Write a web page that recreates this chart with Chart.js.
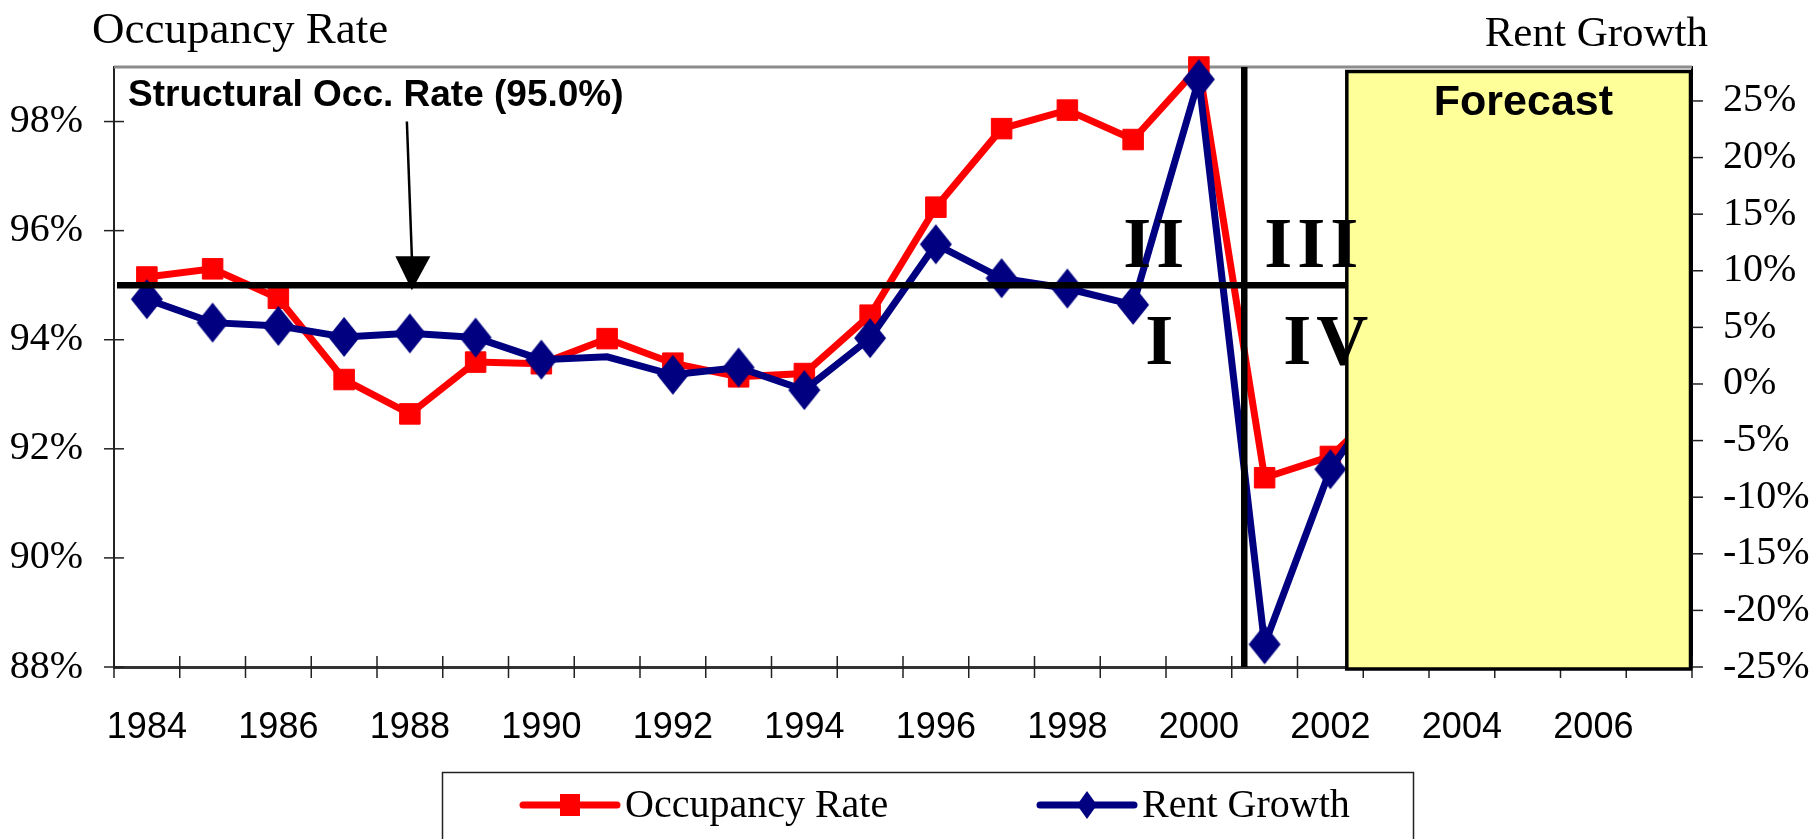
<!DOCTYPE html>
<html>
<head>
<meta charset="utf-8">
<script src="https://cdn.jsdelivr.net/npm/chart.js@4.4.0/dist/chart.umd.min.js"></script>
<style>
html, body { margin: 0; padding: 0; background: #fff; }
#wrap { width: 1818px; height: 839px; }
</style>
</head>
<body>
<div id="wrap"><canvas id="myChart" width="1818" height="839"></canvas></div>
<script>
const years = ['1984', '1985', '1986', '1987', '1988', '1989', '1990', '1991', '1992', '1993', '1994', '1995',
               '1996', '1997', '1998', '1999', '2000', '2001', '2002', '2003', '2004', '2005', '2006', '2007'];
// percent
const occupancyRate = [95.15, 95.30, 94.76, 93.27, 92.64, 93.59, 93.56, 94.02, 93.57, 93.32, 93.38, 94.45,
                       96.43, 97.87, 98.21, 97.67, 99.00, 91.47, 91.86, 93.0, null, null, null, null];
const rentGrowth = [7.49, 5.42, 5.13, 4.16, 4.47, 4.10, 2.15, 2.40, 0.81, 1.46, -0.54, 4.05,
                    12.34, 9.34, 8.43, 6.99, 26.91, -23.0, -7.53, 0.7, null, null, null, null];
const rentNoMarker = ['1991'];
const occTicks = [88, 90, 92, 94, 96, 98];
const rentTicks = [-25, -20, -15, -10, -5, 0, 5, 10, 15, 20, 25];
const structuralRate = 95;

// category positions (fractional index) for the notes
const arrowAt = 4;          // 1988
const arrowFrom = 98;
const cycleBreak = 16.69;   // between 2000 and 2001
const forecastStart = 18.25;

const sans = '"Liberation Sans", Arial, sans-serif';
const serif = '"Liberation Serif", "Times New Roman", serif';

// tall diamond marker like the excel one
const diamond = document.createElement('canvas');
diamond.width = 34;
diamond.height = 42;
(function () {
  const d = diamond.getContext('2d');
  d.fillStyle = '#000080';
  d.beginPath();
  d.moveTo(17, 1);
  d.lineTo(33, 21);
  d.lineTo(17, 41);
  d.lineTo(1, 21);
  d.closePath();
  d.fill();
})();

function seg(ctx, x1, y1, x2, y2) {
  ctx.beginPath();
  ctx.moveTo(x1, y1);
  ctx.lineTo(x2, y2);
  ctx.stroke();
}

const notes = {
  id: 'notes',
  beforeDatasetsDraw(chart) {
    const {ctx, chartArea: a, scales} = chart;
    const x = scales.x, yl = scales.yOcc, yr = scales.yRent;
    ctx.save();
    // grey frame top
    ctx.strokeStyle = '#8c8c8c';
    ctx.lineWidth = 3;
    seg(ctx, a.left, a.top, a.right, a.top);
    // crossing tick marks
    ctx.strokeStyle = '#222';
    ctx.lineWidth = 1.5;
    for (let i = 0; i <= years.length; i++) {
      const px = x.getPixelForValue(i - 0.5);
      seg(ctx, px, a.bottom - 11, px, a.bottom + 11);
    }
    occTicks.forEach(v => {
      const py = yl.getPixelForValue(v);
      seg(ctx, a.left - 10, py, a.left + 10, py);
    });
    rentTicks.forEach(v => {
      const py = yr.getPixelForValue(v);
      seg(ctx, a.right - 10, py, a.right + 11, py);
    });
    ctx.restore();
  },
  afterDatasetsDraw(chart) {
    const {ctx, chartArea: a, scales} = chart;
    const x = scales.x, yl = scales.yOcc;
    const xf = x.getPixelForValue(forecastStart);
    const xc = x.getPixelForValue(cycleBreak);
    const y95 = yl.getPixelForValue(structuralRate);
    ctx.save();
    // structural rate line
    ctx.strokeStyle = '#000';
    ctx.lineWidth = 6.5;
    seg(ctx, a.left + 3, y95, xf, y95);
    // cycle break
    seg(ctx, xc, a.top, xc, a.bottom);
    // arrow
    const xa = x.getPixelForValue(arrowAt);
    const ya = yl.getPixelForValue(arrowFrom);
    ctx.lineWidth = 2.5;
    seg(ctx, xa - 3, ya, xa + 2, y95 - 28);
    ctx.fillStyle = '#000';
    ctx.beginPath();
    ctx.moveTo(xa + 3 - 17.5, y95 - 29);
    ctx.lineTo(xa + 3 + 17.5, y95 - 29);
    ctx.lineTo(xa + 2, y95 + 5);
    ctx.closePath();
    ctx.fill();
    // forecast box
    ctx.fillStyle = '#ffff99';
    ctx.fillRect(xf, a.top + 3, a.right - xf, a.bottom - a.top);
    ctx.strokeStyle = '#000';
    ctx.lineWidth = 3.5;
    ctx.strokeRect(xf, a.top + 4.5, a.right - 1.5 - xf, a.bottom + 2 - a.top - 4.5);
    ctx.fillStyle = '#000';
    ctx.textBaseline = 'alphabetic';
    ctx.textAlign = 'center';
    ctx.font = 'bold 43px ' + sans;
    ctx.fillText('Forecast', (xf + a.right) / 2 + 4, a.top + 48);
    // structural label
    ctx.textAlign = 'left';
    ctx.font = 'bold 37px ' + sans;
    ctx.fillText('Structural Occ. Rate (95.0%)', a.left + 14, a.top + 39);
    // cycle quadrants
    ctx.font = 'bold 72px ' + serif;
    ctx.letterSpacing = '5px';
    ctx.textAlign = 'right';
    ctx.fillText('II', xc - 55, y95 - 18);
    ctx.fillText('I', xc - 66, y95 + 79);
    ctx.textAlign = 'left';
    ctx.fillText('III', xc + 20, y95 - 18);
    ctx.fillText('IV', xc + 39, y95 + 79);
    ctx.restore();
  },
  afterDraw(chart) {
    const {ctx} = chart;
    ctx.save();
    ctx.fillStyle = '#000';
    ctx.textBaseline = 'alphabetic';
    ctx.font = '45px ' + serif;
    ctx.textAlign = 'left';
    ctx.fillText('Occupancy Rate', 92, 43);
    ctx.font = '43px ' + serif;
    ctx.textAlign = 'right';
    ctx.fillText('Rent Growth', 1708, 46);
    // legend
    ctx.strokeStyle = '#222';
    ctx.lineWidth = 1.5;
    ctx.strokeRect(442.5, 772.5, 971, 100);
    const items = [{x: 523, w: 94}, {x: 1040, w: 94}];
    chart.data.datasets.forEach((ds, i) => {
      const it = items[i];
      const cy = 805;
      ctx.strokeStyle = ds.borderColor;
      ctx.lineWidth = 7;
      ctx.lineCap = 'round';
      seg(ctx, it.x, cy, it.x + it.w, cy);
      ctx.fillStyle = ds.borderColor;
      const mx = it.x + it.w / 2;
      if (ds.pointStyle === 'rect') {
        ctx.fillRect(mx - 10, cy - 11, 20, 22);
      } else {
        ctx.beginPath();
        ctx.moveTo(mx, cy - 14);
        ctx.lineTo(mx + 10, cy);
        ctx.lineTo(mx, cy + 14);
        ctx.lineTo(mx - 10, cy);
        ctx.closePath();
        ctx.fill();
      }
      ctx.fillStyle = '#000';
      ctx.font = '40px ' + serif;
      ctx.textAlign = 'left';
      ctx.fillText(ds.label, it.x + it.w + 8, 817);
    });
    ctx.restore();
  }
};

const ctx = document.getElementById('myChart').getContext('2d');
const myChart = new Chart(ctx, {
  type: 'line',
  data: {
    labels: years,
    datasets: [{
      label: 'Occupancy Rate',
      data: occupancyRate,
      yAxisID: 'yOcc',
      borderColor: '#ff0000',
      backgroundColor: '#ff0000',
      borderWidth: 7,
      pointStyle: 'rect',
      pointRadius: 14.5,
      pointBorderWidth: 1,
      tension: 0,
      clip: false,
      order: 2
    }, {
      label: 'Rent Growth',
      data: rentGrowth,
      yAxisID: 'yRent',
      borderColor: '#000080',
      backgroundColor: '#000080',
      borderWidth: 7,
      pointStyle: diamond,
      pointRadius: c => rentNoMarker.includes(years[c.dataIndex]) ? 0 : 18,
      tension: 0,
      clip: false,
      order: 1
    }]
  },
  options: {
    responsive: false,
    animation: false,
    events: [],
    devicePixelRatio: 1,
    layout: { padding: { top: 67, left: 0, right: 0, bottom: 0 } },
    plugins: { legend: { display: false }, tooltip: { enabled: false } },
    scales: {
      x: {
        type: 'category',
        offset: true,
        grid: { display: false, drawTicks: false, offset: true },
        border: { display: true, color: '#333', width: 3 },
        ticks: {
          autoSkip: false,
          maxRotation: 0,
          padding: 39,
          color: '#000',
          font: { family: sans, size: 36 },
          callback: function (val, i) { return i % 2 === 0 ? this.getLabelForValue(val) : ''; }
        },
        afterFit: s => { s.height = 172; }
      },
      yOcc: {
        position: 'left',
        min: 88,
        max: 99,
        grid: { display: false, drawTicks: false },
        border: { display: true, color: '#222', width: 2 },
        ticks: {
          stepSize: 2,
          padding: 31,
          color: '#000',
          font: { family: serif, size: 40 },
          callback: v => v + '%'
        },
        afterBuildTicks: s => { s.ticks = occTicks.map(v => ({ value: v })); },
        afterFit: s => { s.width = 114; }
      },
      yRent: {
        position: 'right',
        min: -25,
        max: 28,
        grid: { display: false, drawTicks: false },
        border: { display: true, color: '#000', width: 2 },
        ticks: {
          stepSize: 5,
          padding: 31,
          color: '#000',
          font: { family: serif, size: 40 },
          callback: v => v + '%'
        },
        afterBuildTicks: s => { s.ticks = rentTicks.map(v => ({ value: v })); },
        afterFit: s => { s.width = 126; }
      }
    }
  },
  plugins: [notes]
});
</script>
</body>
</html>
